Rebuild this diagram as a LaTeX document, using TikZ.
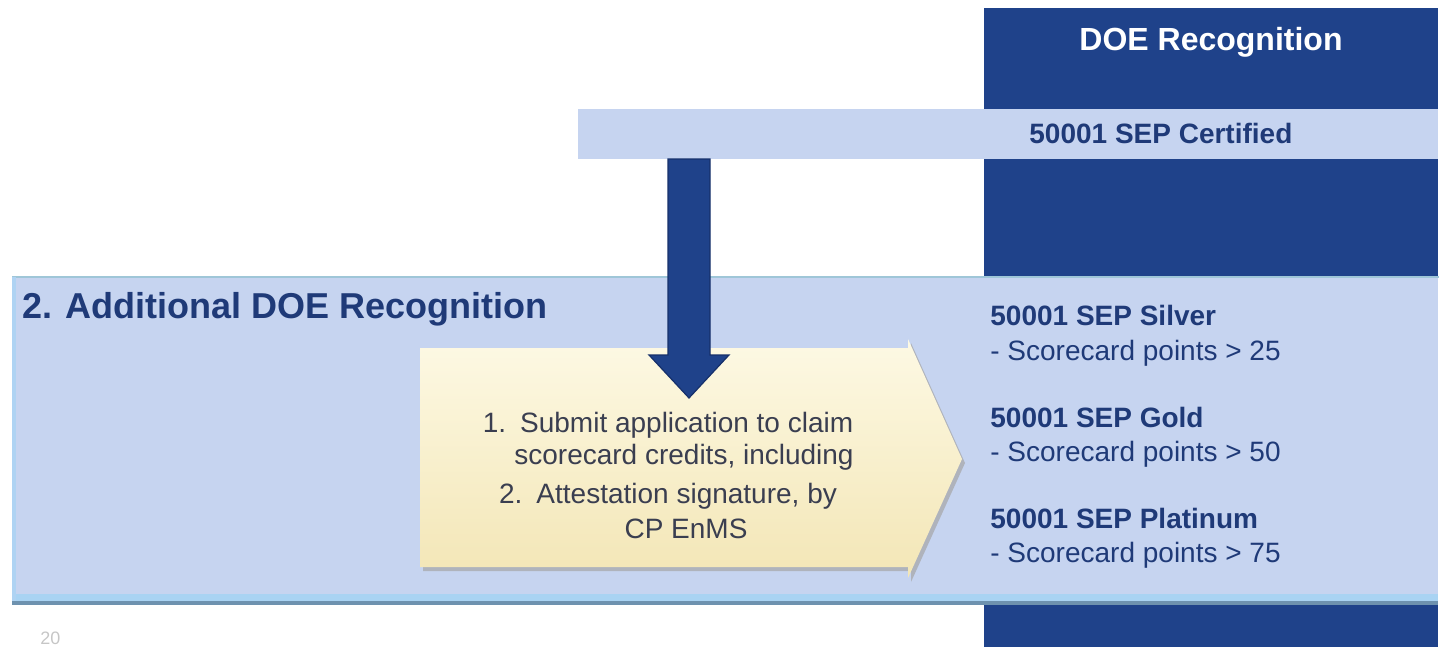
\documentclass[tikz,border=0pt]{standalone}
\usepackage{fontspec}
\setmainfont{Liberation Sans}
\usetikzlibrary{calc}

\definecolor{doeblue}{HTML}{1F428A}
\definecolor{doeedge}{HTML}{16306A}
\definecolor{paleblue}{HTML}{C6D4F0}
\definecolor{ink}{HTML}{1F3A78}
\definecolor{stepgray}{HTML}{3A3E50}
\definecolor{creamtop}{HTML}{FDF9E4}
\definecolor{creambot}{HTML}{F3E6B6}
\definecolor{rimdark}{HTML}{6E92AF}
\definecolor{rimglow}{HTML}{A9D3F3}
\definecolor{rimtop}{HTML}{9FC6D8}

\begin{document}
\begin{tikzpicture}[x=0.5pt,y=-0.5pt,
  panel/.style={fill=paleblue,draw=none,inner sep=0,anchor=north west},
  heading/.style={text=ink,font=\bfseries\fontsize{18}{21}\selectfont,anchor=base west,inner sep=0},
  level/.style={text=ink,font=\bfseries\fontsize{14}{16}\selectfont,anchor=base west,inner sep=0},
  points/.style={text=ink,font=\fontsize{14}{16}\selectfont,anchor=base west,inner sep=0},
  steptext/.style={text=stepgray,font=\fontsize{14}{16}\selectfont,anchor=base,inner sep=0}]
\useasboundingbox (0,0) rectangle (1440,647);

% recognition column
\node[panel,fill=doeblue,minimum width=227pt,minimum height=320pt] (col) at (984,8) {};
\node[text=white,font=\bfseries\fontsize{16}{19}\selectfont,anchor=base,inner sep=0] (title) at (1211,51) {DOE Recognition};

% certified band
\node[panel,minimum width=430pt,minimum height=25pt] (band) at (578,109) {};
\node[level] (cert) at (1029,143) {50001 SEP Certified};

% additional recognition box
\node[panel,minimum width=713pt,minimum height=163pt] (extra) at (12,277) {};
\draw[rimtop,line width=0.6pt] (extra.north west) -- (extra.north east);
\fill[rimglow] (12,594) rectangle (1438,601);
\fill[rimdark] (12,601) rectangle (1438,605);
\fill[rimglow!80!paleblue] (12,277) rectangle (16,601);
\node[heading] (head) at (22,318) {2. Additional DOE Recognition};

% cream step arrow
\coordinate (s1) at (420,348);
\coordinate (s2) at (908,348);
\coordinate (s3) at (908,339);
\coordinate (tip) at (962,459);
\coordinate (s4) at (908,578);
\coordinate (s5) at (908,567);
\coordinate (s6) at (420,567);
\fill[gray!70,opacity=0.7] ($(s1)+(3,4)$) -- ($(s2)+(3,4)$) -- ($(s3)+(3,4)$) -- ($(tip)+(3,4)$)
  -- ($(s4)+(3,4)$) -- ($(s5)+(3,4)$) -- ($(s6)+(3,4)$) -- cycle;
\shade[top color=creamtop,bottom color=creambot] (s1) -- (s2) -- (s3) -- (tip) -- (s4) -- (s5) -- (s6) -- cycle;

\node[steptext] (a1) at (668,432) {1.\enspace Submit application to claim};
\node[steptext] (a2) at (684,464) {scorecard credits, including};
\node[steptext] (b1) at (668,503) {2.\enspace Attestation signature, by};
\node[steptext] (b2) at (686,538) {CP EnMS};

% drop arrow from band into step
\coordinate (drop) at (689,159);
\coordinate (hit) at (689,398);
\filldraw[doeblue,draw=doeedge,line width=0.6pt]
  ($(drop)+(-21,0)$) -- ($(drop)+(21,0)$) -- ($(hit)+(21,-43)$) -- ($(hit)+(40,-43)$)
  -- (hit) -- ($(hit)+(-40,-43)$) -- ($(hit)+(-21,-43)$) -- cycle;

% levels
\node[level] (silver) at (990,325) {50001 SEP Silver};
\node[points] (silverp) at (990,360) {- Scorecard points > 25};
\node[level] (gold) at (990,427) {50001 SEP Gold};
\node[points] (goldp) at (990,461) {- Scorecard points > 50};
\node[level] (plat) at (990,528) {50001 SEP Platinum};
\node[points] (platp) at (990,562) {- Scorecard points > 75};

% page number
\node[text=gray!45,font=\fontsize{9}{11}\selectfont,anchor=base west,inner sep=0] (page) at (40,644) {20};
\end{tikzpicture}
\end{document}
